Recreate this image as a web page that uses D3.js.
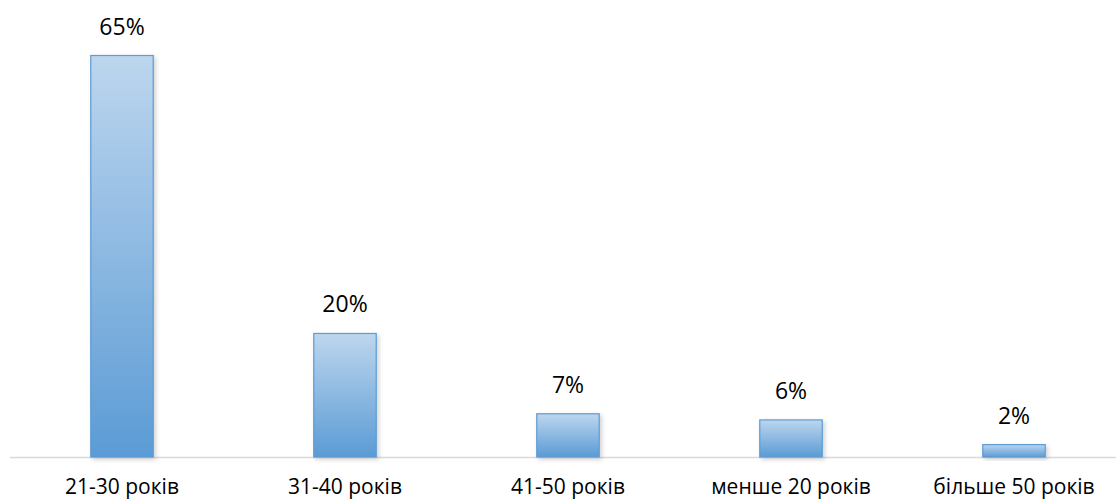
<!DOCTYPE html>
<html><head><meta charset="utf-8">
<script src="https://cdn.jsdelivr.net/npm/d3@7"></script>
<style>body{margin:0;background:#fff;} svg{display:block;}</style>
</head><body>
<svg id="chart" width="1116" height="499"></svg>
<script>
const categories = ["21-30 років", "31-40 років", "41-50 років", "менше 20 років", "більше 50 років"];
const values = [65, 20, 7, 6, 2];
const labels = ["65%", "20%", "7%", "6%", "2%"];

const svg = d3.select("#chart");
const baseline = 457;
const x = d3.scaleBand().domain(categories).range([10.5, 1125.5]).paddingInner(0.72).paddingOuter(0.36);
const y = d3.scaleLinear().domain([0, 65]).range([baseline, 55.5]);

const defs = svg.append("defs");
const grad = defs.append("linearGradient").attr("id", "g").attr("x1", 0).attr("y1", 0).attr("x2", 0).attr("y2", 1);
grad.append("stop").attr("offset", "0%").attr("stop-color", "#bdd6ee");
grad.append("stop").attr("offset", "100%").attr("stop-color", "#5b9bd5");
const f = defs.append("filter").attr("id", "sh").attr("x", "-20%").attr("y", "-20%").attr("width", "150%").attr("height", "150%");
f.append("feDropShadow").attr("dx", 2).attr("dy", 2).attr("stdDeviation", 2).attr("flood-color", "#000").attr("flood-opacity", 0.18);

svg.append("line").attr("x1", 10).attr("x2", 1116).attr("y1", baseline + 0.5).attr("y2", baseline + 0.5)
  .attr("stroke", "#d9d9d9").attr("stroke-width", 1.3);

svg.selectAll("rect.bar").data(values).join("rect").attr("class", "bar")
  .attr("x", (d, i) => x(categories[i]))
  .attr("y", d => y(d))
  .attr("width", x.bandwidth())
  .attr("height", d => baseline - y(d))
  .attr("fill", "url(#g)")
  .attr("stroke", "#5b9bd5").attr("stroke-width", 1.2)
  .attr("filter", "url(#sh)");

svg.selectAll("text.val").data(values).join("text").attr("class", "val")
  .attr("x", (d, i) => x(categories[i]) + x.bandwidth() / 2)
  .attr("y", d => y(d) - 21)
  .attr("text-anchor", "middle")
  .attr("font-family", "Open Sans, sans-serif").attr("font-size", 23).attr("fill", "#000")
  .text((d, i) => labels[i]);

const axis = d3.axisBottom(x).tickSize(0).tickPadding(0);
const g = svg.append("g").attr("transform", `translate(0,${baseline})`).call(axis);
g.select(".domain").remove();
g.selectAll("text").attr("dy", null).attr("y", 37)
  .attr("font-family", "Open Sans, sans-serif").attr("font-size", 21).attr("fill", "#000");
</script>
</body></html>
